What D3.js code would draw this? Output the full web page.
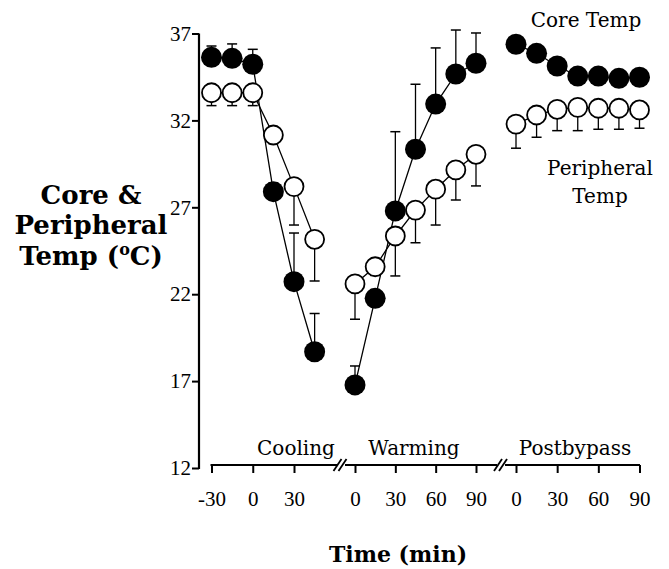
<!DOCTYPE html>
<html><head><meta charset="utf-8">
<script src="https://cdn.jsdelivr.net/npm/d3@7"></script>
<style>body{margin:0;background:#fff}svg{display:block}</style>
</head><body>
<script>
// ---- data ----
const yTicks = [12, 17, 22, 27, 32, 37];
const phases = ["Cooling", "Warming", "Postbypass"];
const coolTicks = [-30, 0, 30];
const warmTicks = [0, 30, 60, 90];
const postTicks = [0, 30, 60, 90];

const coolTime = [-30, -15, 0, 15, 30, 45];
const coolCore = [35.63, 35.57, 35.23, 27.9, 22.72, 18.69];
const coolCoreErr = [0.65, 0.83, 0.86, 0.5, 2.8, 2.2];
const coolPeri = [33.59, 33.59, 33.59, 31.16, 28.19, 25.16];
const coolPeriErr = [0.74, 0.74, 0.74, 0.5, 2.21, 2.4];

const warmTime = [0, 15, 30, 45, 60, 75, 90];
const warmCore = [16.78, 21.76, 26.79, 30.34, 32.94, 34.67, 35.29];
const warmCoreErr = [1.09, 0.5, 4.56, 3.74, 3.23, 2.53, 1.74];
const warmPeri = [22.59, 23.58, 25.35, 26.84, 28.04, 29.15, 30.05];
const warmPeriErr = [2.03, 0.5, 2.3, 1.88, 2.06, 1.73, 1.82];

const postTime = [0, 15, 30, 45, 60, 75, 90];
const postCore = [36.38, 35.86, 35.13, 34.55, 34.55, 34.42, 34.48];
const postCoreErr = [0.4, 0.4, 0.4, 0.4, 0.4, 0.4, 0.4];
const postPeri = [31.79, 32.31, 32.64, 32.75, 32.7, 32.7, 32.6];
const postPeriErr = [1.39, 1.28, 1.23, 1.34, 1.21, 1.21, 1.05];

// ---- layout ----
const W = 669, H = 569;
const svg = d3.select("body").append("svg").attr("width", W).attr("height", H);
svg.append("rect").attr("width", W).attr("height", H).attr("fill", "#fff");

const serif = "'DejaVu Serif', serif";
const numFont = "'Liberation Serif', serif";
const fmt = d => String(d); // plain hyphen for negatives

const y = d3.scaleLinear().domain([12, 37]).range([468, 33.5]);
const axisX = 199;
const axisY = 465;

const segs = [
  { name: phases[0], x: d3.scaleLinear().domain([-30, 30]).range([211.5, 294]), ticks: coolTicks, lineEnd: [210.5, 338],
    t: coolTime, core: coolCore, coreErr: coolCoreErr, peri: coolPeri, periErr: coolPeriErr, labelX: 296 },
  { name: phases[1], x: d3.scaleLinear().domain([0, 90]).range([355, 476]), ticks: warmTicks, lineEnd: [345, 497],
    t: warmTime, core: warmCore, coreErr: warmCoreErr, peri: warmPeri, periErr: warmPeriErr, labelX: 414 },
  { name: phases[2], x: d3.scaleLinear().domain([0, 90]).range([516, 639.5]), ticks: postTicks, lineEnd: [505, 640],
    t: postTime, core: postCore, coreErr: postCoreErr, peri: postPeri, periErr: postPeriErr, labelX: 575 }
];

// ---- y axis ----
const yAxis = d3.axisLeft(y).tickValues(yTicks).tickFormat(fmt).tickSize(7).tickPadding(1).tickSizeOuter(0);
const gy = svg.append("g").attr("transform", `translate(${axisX},0)`).call(yAxis);
gy.select(".domain").attr("stroke", "#000").attr("stroke-width", 2.2);
gy.selectAll(".tick line").attr("stroke", "#000").attr("stroke-width", 2);
gy.selectAll(".tick text").attr("font-family", numFont).attr("font-size", 21).attr("fill", "#000");
gy.select(".domain").attr("d", `M0,${y(37)}V${y(12) + 1}`);

// ---- x axes (broken) ----
segs.forEach(s => {
  const ax = d3.axisBottom(s.x).tickValues(s.ticks).tickFormat(fmt).tickSize(8).tickPadding(18).tickSizeOuter(0);
  const g = svg.append("g").attr("transform", `translate(0,${axisY})`).call(ax);
  g.select(".domain").attr("d", `M${s.lineEnd[0]},0H${s.lineEnd[1]}`).attr("stroke", "#000").attr("stroke-width", 2.2);
  g.selectAll(".tick line").attr("stroke", "#000").attr("stroke-width", 2);
  g.selectAll(".tick text").attr("font-family", numFont).attr("font-size", 21).attr("fill", "#000");
  svg.append("text").attr("x", s.labelX).attr("y", 455).attr("text-anchor", "middle")
    .attr("font-family", serif).attr("font-size", 20).text(s.name);
});
// break marks
[333.5, 494].forEach(bx => {
  [0, 5].forEach(o => {
    svg.append("line").attr("x1", bx + o).attr("y1", 471).attr("x2", bx + o + 8).attr("y2", 459)
      .attr("stroke", "#000").attr("stroke-width", 1.8);
  });
});

// ---- series ----
const line = (s, key) => d3.line().x((d, i) => s.x(s.t[i])).y(d => y(d))(s[key]);

segs.forEach(s => {
  const g = svg.append("g");
  // error bars: core up, peripheral down
  s.t.forEach((t, i) => {
    const cx = s.x(t);
    const ct = y(s.core[i] + s.coreErr[i]);
    g.append("line").attr("x1", cx).attr("x2", cx).attr("y1", y(s.core[i])).attr("y2", ct).attr("stroke", "#000").attr("stroke-width", 1.3);
    g.append("line").attr("x1", cx - 5).attr("x2", cx + 5).attr("y1", ct).attr("y2", ct).attr("stroke", "#000").attr("stroke-width", 1.5);
    const pb = y(s.peri[i] - s.periErr[i]);
    g.append("line").attr("x1", cx).attr("x2", cx).attr("y1", y(s.peri[i])).attr("y2", pb).attr("stroke", "#000").attr("stroke-width", 1.3);
    g.append("line").attr("x1", cx - 5).attr("x2", cx + 5).attr("y1", pb).attr("y2", pb).attr("stroke", "#000").attr("stroke-width", 1.5);
  });
  g.append("path").attr("d", line(s, "peri")).attr("fill", "none").attr("stroke", "#000").attr("stroke-width", 1.3);
  g.append("path").attr("d", line(s, "core")).attr("fill", "none").attr("stroke", "#000").attr("stroke-width", 1.3);
  g.selectAll("circle.p").data(s.peri).join("circle").attr("class", "p")
    .attr("cx", (d, i) => s.x(s.t[i])).attr("cy", d => y(d)).attr("r", 9.5)
    .attr("fill", "#fff").attr("stroke", "#000").attr("stroke-width", 1.8);
  g.selectAll("circle.c").data(s.core).join("circle").attr("class", "c")
    .attr("cx", (d, i) => s.x(s.t[i])).attr("cy", d => y(d)).attr("r", 10.5)
    .attr("fill", "#000");
});

// ---- labels ----
svg.append("text").attr("x", 586).attr("y", 27).attr("text-anchor", "middle")
  .attr("font-family", serif).attr("font-size", 20).text("Core Temp");
svg.append("text").attr("x", 600).attr("y", 175).attr("text-anchor", "middle")
  .attr("font-family", serif).attr("font-size", 20).text("Peripheral");
svg.append("text").attr("x", 600).attr("y", 203).attr("text-anchor", "middle")
  .attr("font-family", serif).attr("font-size", 20).text("Temp");

const yl = svg.append("text").attr("text-anchor", "middle").attr("font-family", serif)
  .attr("font-weight", "bold").attr("font-size", 26);
yl.append("tspan").attr("x", 91).attr("y", 204).text("Core &");
yl.append("tspan").attr("x", 91).attr("y", 234).text("Peripheral");
const t3 = yl.append("tspan").attr("x", 91).attr("y", 265);
t3.append("tspan").text("Temp (");
t3.append("tspan").attr("font-size", 16).attr("dy", -10).text("o");
t3.append("tspan").attr("dy", 10).text("C)");

svg.append("text").attr("x", 398).attr("y", 562).attr("text-anchor", "middle")
  .attr("font-family", serif).attr("font-weight", "bold").attr("font-size", 22).text("Time (min)");
</script>
</body></html>
